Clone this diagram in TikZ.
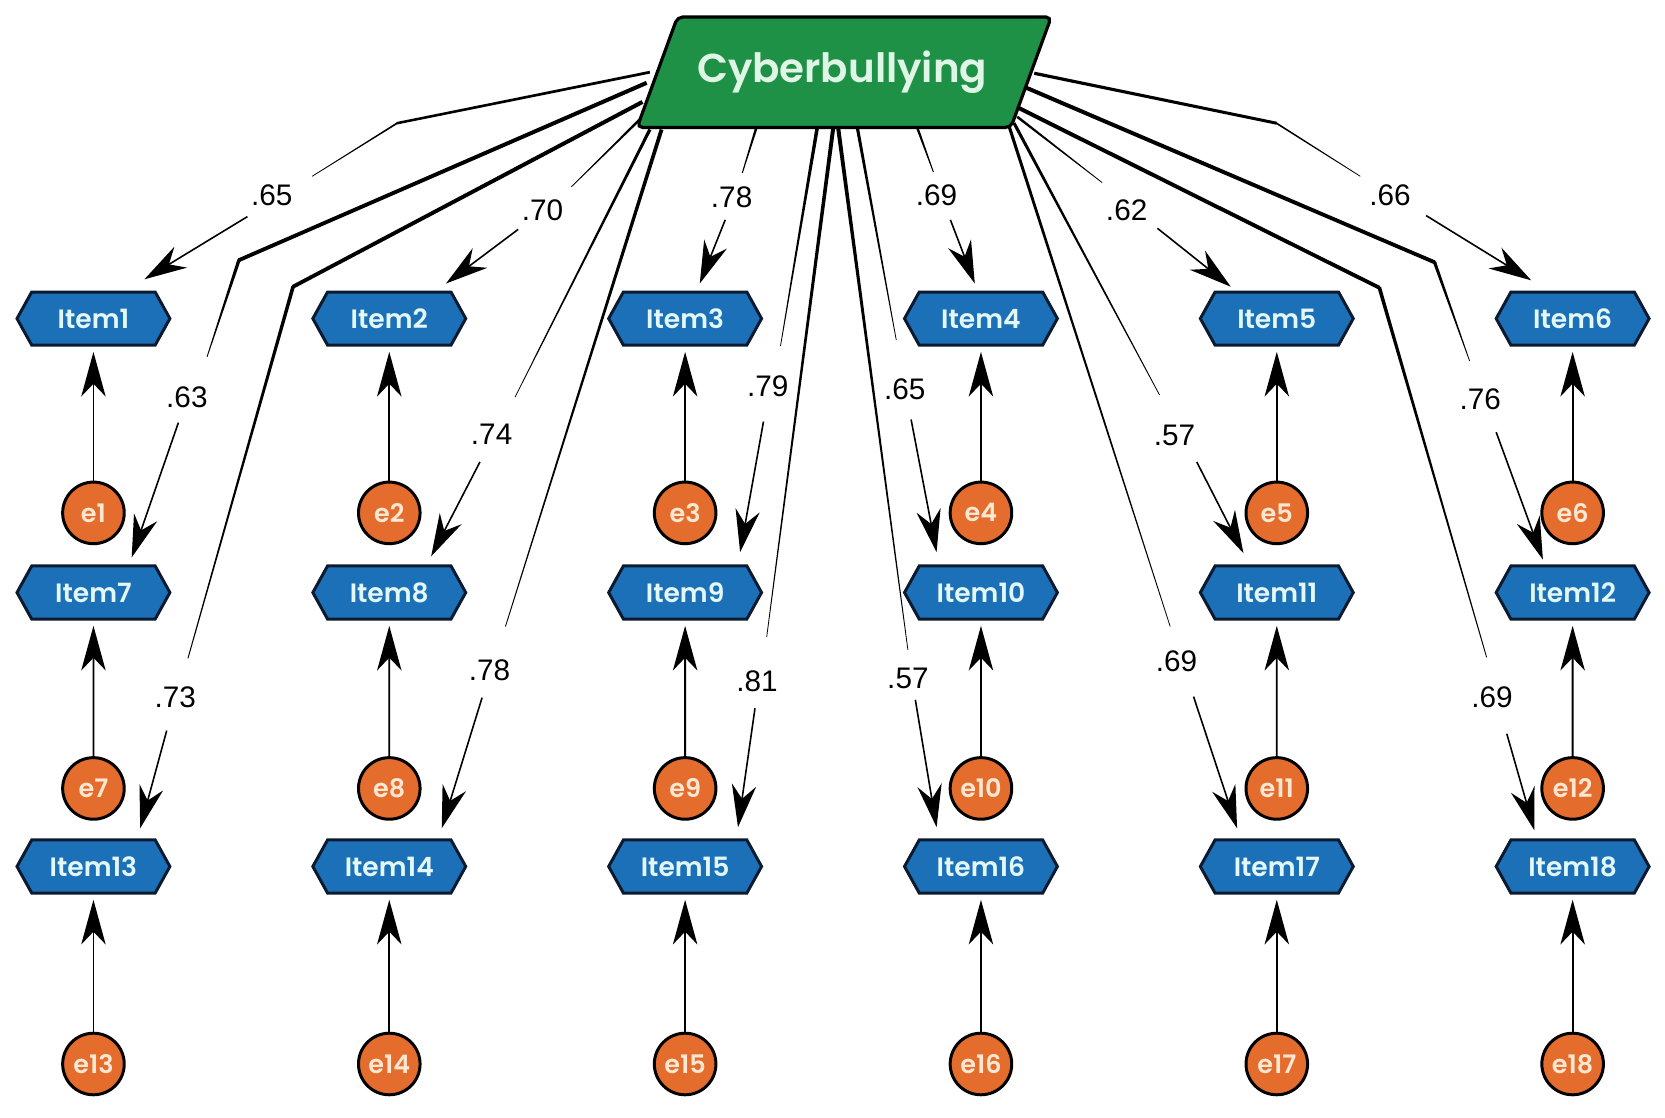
\documentclass[tikz,border=0pt]{standalone}
\usepackage{fontspec}
\usetikzlibrary{arrows.meta,calc,shapes.symbols}
\newfontfamily\cbfont{Poppins SemiBold}
\newfontfamily\itfont{Poppins SemiBold}
\newfontfamily\labfont{Liberation Sans}
\definecolor{cbgreen}{HTML}{1E9146}
\definecolor{itemblue}{HTML}{1C70B8}
\definecolor{eorange}{HTML}{E46C2D}
\definecolor{hexline}{HTML}{0B1A2E}
\definecolor{itemtext}{HTML}{E3F8F6}
\definecolor{etext}{HTML}{FCE8D2}
\definecolor{cbtext}{HTML}{DFF5E5}
\newcommand\seg[4]{\fill[black] ($(#1)!#3!90:(#2)$) -- ($(#2)!#4!-90:(#1)$) -- ($(#2)!#4!90:(#1)$) -- ($(#1)!#3!-90:(#2)$) -- cycle;}
\tikzset{
  hexn/.style={shape=signal, signal to=east and west, signal pointer angle=122,
    draw=hexline, line width=2.8pt, fill=itemblue, minimum width=144pt, minimum height=50pt,
    inner sep=0pt, text=itemtext, font=\itfont\fontsize{25}{25}\selectfont},
  errn/.style={circle, minimum size=58pt, inner sep=0pt, fill=eorange, draw=black, line width=2.8pt,
    text=etext, font=\itfont\fontsize{24}{24}\selectfont},
  lab/.style={inner sep=0pt, font=\labfont\fontsize{28}{28}\selectfont},
  earr/.style={line width=1.7pt, -{Stealth[length=42pt,width=23pt,inset=12pt]}, shorten >=5pt},
  arr/.style={line width=1.5pt, -{Stealth[length=40pt,width=23pt,inset=13pt]}},
  cbbox/.style={draw=black, line width=3pt, fill=cbgreen, rounded corners=5pt}
}
\begin{document}
\begin{tikzpicture}[x=1pt,y=-1pt]
\fill[white] (0,0) rectangle (1568,1052);
\path[use as bounding box] (0,0) rectangle (1568,1052);

% ---- points of the loading connectors
\coordinate (s1) at (612,68); \coordinate (b1) at (374,116); \coordinate (m1) at (294,166);
\coordinate (a1) at (233,204); \coordinate (t1) at (136,263);
\coordinate (s7) at (609,78); \coordinate (b7) at (225,245); \coordinate (m7) at (195,336);
\coordinate (a7) at (168,398); \coordinate (t7) at (124,525);
\coordinate (s13) at (605,96); \coordinate (b13) at (276,270); \coordinate (m13) at (177,620);
\coordinate (a13) at (157,688); \coordinate (t13) at (132,780);
\coordinate (s2) at (603,112); \coordinate (m2) at (538,176); \coordinate (a2) at (488,216); \coordinate (t2) at (420,267);
\coordinate (s8) at (612,122); \coordinate (m8) at (485,374); \coordinate (a8) at (452,435); \coordinate (t8) at (406,524);
\coordinate (s14) at (623,122); \coordinate (m14) at (476,590); \coordinate (a14) at (454,657); \coordinate (t14) at (416,780);
\coordinate (s3) at (713,118); \coordinate (m3) at (699,163); \coordinate (a3) at (683,207); \coordinate (t3) at (659,267);
\coordinate (s9) at (770,118); \coordinate (m9) at (735,326); \coordinate (a9) at (719,397); \coordinate (t9) at (697,520);
\coordinate (s15) at (785,118); \coordinate (m15) at (722,600); \coordinate (a15) at (711,667); \coordinate (t15) at (695,779);
\coordinate (s16) at (789,118); \coordinate (m16) at (855,612); \coordinate (a16) at (862,659); \coordinate (t16) at (882,779);
\coordinate (s10) at (807,118); \coordinate (m10) at (844,320); \coordinate (a10) at (858,395); \coordinate (t10) at (882,520);
\coordinate (s4) at (863,118); \coordinate (m4) at (879,162); \coordinate (a4) at (895,207); \coordinate (t4) at (918,267);
\coordinate (s5) at (958,110); \coordinate (m5) at (1038,172); \coordinate (a5) at (1090,215); \coordinate (t5) at (1159,270);
\coordinate (s11) at (955,116); \coordinate (m11) at (1092,372); \coordinate (a11) at (1127,435); \coordinate (t11) at (1171,521);
\coordinate (s17) at (950,118); \coordinate (m17) at (1102,590); \coordinate (a17) at (1124,656); \coordinate (t17) at (1165,780);
\coordinate (s6) at (974,69); \coordinate (b6) at (1202,116); \coordinate (m6) at (1281,166);
\coordinate (a6) at (1343,203); \coordinate (t6) at (1442,264);
\coordinate (s12) at (965,82); \coordinate (b12) at (1351,247); \coordinate (m12) at (1384,340);
\coordinate (a12) at (1409,407); \coordinate (t12) at (1453,527);
\coordinate (s18) at (958,101); \coordinate (b18) at (1299,271); \coordinate (m18) at (1400,619);
\coordinate (a18) at (1419,691); \coordinate (t18) at (1445,782);

% ---- labels
\node[lab] (l1) at (256,184) {.65};
\node[lab] (l7) at (176,374) {.63};
\node[lab] (l13) at (165,657) {.73};
\node[lab] (l2) at (511,198) {.70};
\node[lab] (l8) at (463,409) {.74};
\node[lab] (l14) at (461,631) {.78};
\node[lab] (l3) at (689,186) {.78};
\node[lab] (l9) at (723,364) {.79};
\node[lab] (l15) at (713,642) {.81};
\node[lab] (l16) at (855,639) {.57};
\node[lab] (l10) at (852,367) {.65};
\node[lab] (l4) at (882,184) {.69};
\node[lab] (l5) at (1061,198) {.62};
\node[lab] (l11) at (1106,410) {.57};
\node[lab] (l17) at (1108,623) {.69};
\node[lab] (l6) at (1309,184) {.66};
\node[lab] (l12) at (1394,376) {.76};
\node[lab] (l18) at (1405,657) {.69};

% ---- connector bodies (tapered)
\seg{s1}{b1}{1.3pt}{1.2pt} \fill (b1) circle (1.2pt); \seg{b1}{m1}{0.8pt}{0.35pt}
\seg{s7}{b7}{1.9pt}{1.8pt} \fill (b7) circle (1.8pt); \seg{b7}{m7}{1.6pt}{0.4pt}
\seg{s13}{b13}{1.9pt}{1.8pt} \fill (b13) circle (1.8pt); \seg{b13}{m13}{1.7pt}{0.45pt}
\seg{s2}{m2}{1.2pt}{0.35pt}
\seg{s8}{m8}{1.5pt}{0.35pt}
\seg{s14}{m14}{1.8pt}{0.4pt}
\seg{s3}{m3}{1.2pt}{0.45pt}
\seg{s9}{m9}{1.7pt}{0.35pt}
\seg{s15}{m15}{1.9pt}{0.35pt}
\seg{s16}{m16}{1.9pt}{0.35pt}
\seg{s10}{m10}{1.5pt}{0.35pt}
\seg{s4}{m4}{1.2pt}{0.45pt}
\seg{s5}{m5}{1.2pt}{0.35pt}
\seg{s11}{m11}{1.5pt}{0.35pt}
\seg{s17}{m17}{1.5pt}{0.35pt}
\seg{s6}{b6}{1.5pt}{1.4pt} \fill (b6) circle (1.2pt); \seg{b6}{m6}{0.8pt}{0.35pt}
\seg{s12}{b12}{1.9pt}{1.8pt} \fill (b12) circle (1.8pt); \seg{b12}{m12}{1.5pt}{0.35pt}
\seg{s18}{b18}{1.9pt}{1.8pt} \fill (b18) circle (1.8pt); \seg{b18}{m18}{1.7pt}{0.4pt}

% ---- arrow parts
\foreach \k in {1,...,18} {\draw[arr] (a\k) -- (t\k);}

% ---- latent variable
\draw[cbbox] (638,16) -- (990,16) -- (952,120) -- (600,120) -- cycle;
\node[inner sep=0pt, text=cbtext, font=\cbfont\fontsize{38}{38}\selectfont] (cb) at (793,68) {Cyberbullying};

% ---- items and errors
\foreach \k in {1,...,18} {
  \pgfmathtruncatemacro\cc{mod(\k-1,6)}
  \pgfmathtruncatemacro\rr{(\k-1)/6}
  \node[hexn] (i\k) at ({88+278.6*\cc},{300+258*\rr}) {Item\k};
  \node[errn] (e\k) at ({88+278.6*\cc},{483+259.5*\rr}) {e\k};
}
\foreach \k in {1,...,18} {\draw[earr] (e\k) -- (i\k);}
\end{tikzpicture}
\end{document}
